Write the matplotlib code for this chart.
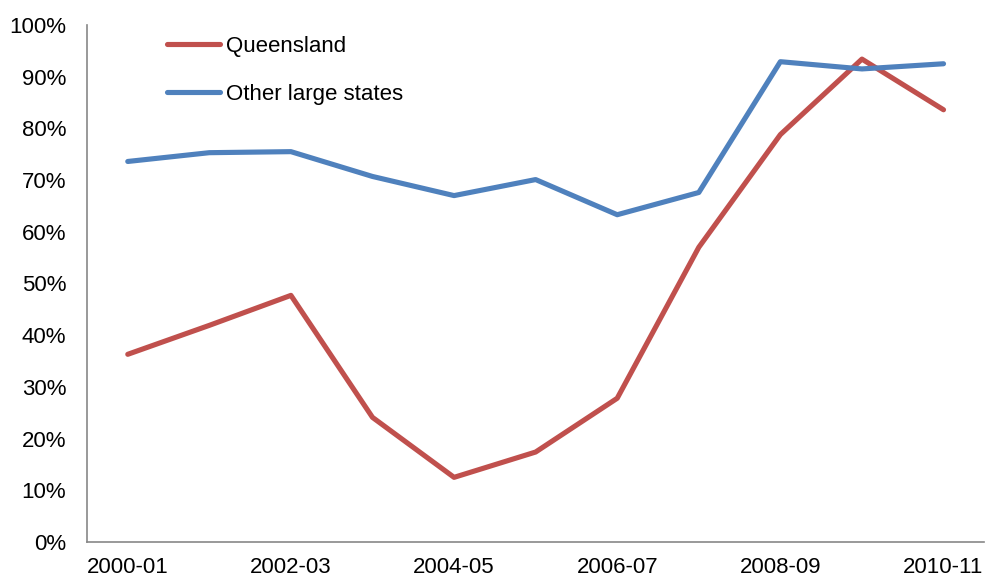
import matplotlib
matplotlib.use("Agg")
import matplotlib.pyplot as plt
from matplotlib.ticker import FuncFormatter

plt.rcParams['font.family'] = ['Liberation Sans', 'DejaVu Sans']

years = ["2000-01", "2001-02", "2002-03", "2003-04", "2004-05", "2005-06",
         "2006-07", "2007-08", "2008-09", "2009-10", "2010-11"]
queensland = [36.3, 41.9, 47.7, 24.1, 12.5, 17.4, 27.8, 57.0, 78.8, 93.4, 83.6]
other_large = [73.6, 75.3, 75.5, 70.7, 67.0, 70.1, 63.3, 67.6, 92.9, 91.5, 92.5]

fig = plt.figure(figsize=(9.85, 5.77), dpi=100)
ax = fig.add_axes([0.0883, 0.0607, 0.911, 0.896])

x = list(range(len(years)))
ax.plot(x, queensland, color='#C0504D', lw=3.7, label='Queensland', solid_capstyle='round')
ax.plot(x, other_large, color='#4F81BD', lw=3.7, label='Other large states', solid_capstyle='round')

ax.set_xlim(-0.5, 10.5)
ax.set_ylim(0, 100)
ax.set_yticks(range(0, 101, 10))
ax.yaxis.set_major_formatter(FuncFormatter(lambda v, p: f"{int(v)}%"))
ax.set_xticks(x[::2])
ax.set_xticklabels(years[::2])
ax.tick_params(axis='both', length=0, labelsize=16, colors='black')
ax.tick_params(axis='y', pad=15)
ax.tick_params(axis='x', pad=11)
for s in ['top', 'right']:
    ax.spines[s].set_visible(False)
for s in ['left', 'bottom']:
    ax.spines[s].set_color('#878787')
    ax.spines[s].set_linewidth(1.2)

leg = ax.legend(loc='upper left', bbox_to_anchor=(0.067, 1.017), frameon=False,
                fontsize=16, handlelength=2.4, handletextpad=0.25, labelspacing=1.2)

fig.savefig("out.png", dpi=100)
